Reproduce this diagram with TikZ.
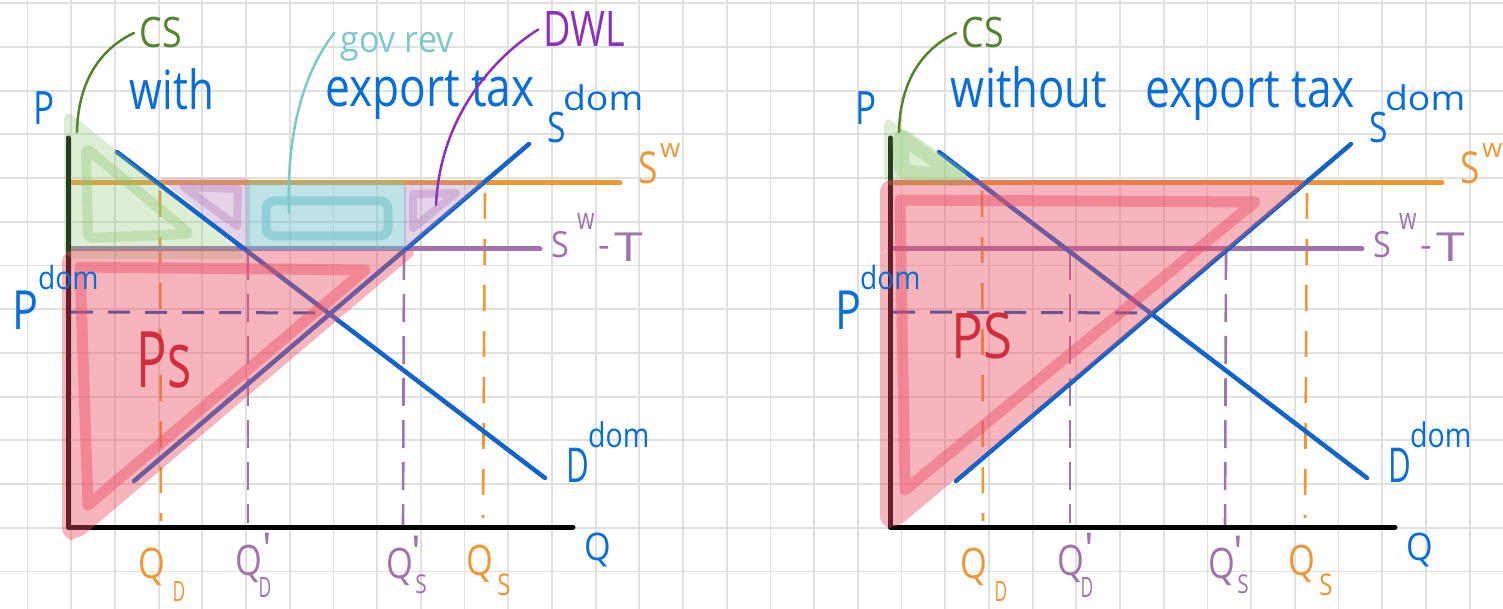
\documentclass[tikz,border=0pt]{standalone}
\usepackage{fontspec}
\setmainfont{Open Sans}
\usepackage{graphicx}
\definecolor{gridc}{RGB}{224,224,224}
\definecolor{lnblue}{RGB}{18,100,200}
\definecolor{dashblue}{RGB}{20,85,175}
\definecolor{txblue}{RGB}{10,110,215}
\definecolor{orng}{RGB}{237,152,55}
\definecolor{purp}{RGB}{160,115,172}
\definecolor{dwlc}{RGB}{140,50,185}
\definecolor{csgreen}{RGB}{85,130,45}
\definecolor{tealt}{RGB}{125,200,200}
\definecolor{psred}{RGB}{210,45,60}
\definecolor{redf}{RGB}{235,80,100}
\definecolor{greenf}{RGB}{140,200,110}
\definecolor{purpf}{RGB}{175,120,185}
\definecolor{tealf}{RGB}{110,195,200}
\newcommand{\fs}[1]{\fontsize{#1}{#1}\selectfont}
\newcommand{\hsc}[2]{\scalebox{#1}[1]{#2}}
\tikzset{
  gridline/.style={draw=gridc, line width=1.8pt},
  axisln/.style={draw=black, line width=5pt, line cap=round, line join=round},
  swline/.style={draw=orng, line width=5pt, line cap=round},
  stline/.style={draw=purp, line width=5pt, line cap=round},
  curveln/.style={draw=lnblue, line width=4.5pt, line cap=round},
  pdash/.style={draw=dashblue, line width=3pt, dash pattern=on 22pt off 15pt},
  odash/.style={draw=orng, line width=2.6pt, dash pattern=on 26pt off 20pt},
  vdash/.style={draw=purp, line width=2.6pt, dash pattern=on 28pt off 14pt},
  lbl/.style={inner sep=0pt, outer sep=0pt, anchor=base},
  bt/.style={lbl, text=txblue},
  ot/.style={lbl, text=orng},
  pt/.style={lbl, text=purp},
  csline/.style={draw=csgreen, line width=2.5pt, line cap=round},
  govline/.style={draw=tealt, line width=2.5pt, line cap=round},
  dwlline/.style={draw=dwlc, line width=2.5pt, line cap=round},
  greenfill/.style={fill=greenf, fill opacity=0.3},
  greenstroke/.style={draw=greenf, draw opacity=0.35, line join=round, line cap=round},
  purplefill/.style={fill=purpf, fill opacity=0.32},
  purplestroke/.style={draw=purpf, draw opacity=0.35, line join=round},
  tealfill/.style={fill=tealf, fill opacity=0.45},
  tealstroke/.style={draw=tealf, draw opacity=0.55, line join=round},
  redfill/.style={fill=redf, fill opacity=0.42},
  redstroke/.style={draw=redf, draw opacity=0.45, line join=round, line cap=round},
}
\newcommand{\panellines}{%
  \coordinate (O) at (68,527);
  \coordinate (Yt) at (68,138);
  \coordinate (Xe) at (573,527);
  \coordinate (sw1) at (68,183);
  \coordinate (sw2) at (620,183);
  \coordinate (st1) at (68,249);
  \coordinate (st2) at (540,249);
  \coordinate (s1) at (134,481);
  \coordinate (s2) at (529,144);
  \coordinate (d1) at (117,152);
  \coordinate (d2) at (545,478);
  \coordinate (eq) at (329,313);
  \coordinate (pd) at (71,312);
  \coordinate (qd1) at (160,191);
  \coordinate (qd2) at (161,521);
  \coordinate (qdp1) at (248,252);
  \coordinate (qdp2) at (248,523);
  \coordinate (qsp1) at (404,252);
  \coordinate (qsp2) at (403,526);
  \coordinate (qs1) at (485,193);
  \coordinate (qs2) at (483,518);
  \draw[odash] (qd1) -- (qd2);
  \draw[vdash] (qdp1) -- (qdp2);
  \draw[vdash] (qsp1) -- (qsp2);
  \draw[odash] (qs1) -- (qs2);
  \draw[swline] (sw1) -- (sw2);
  \draw[stline] (st1) -- (st2);
  \draw[pdash] (pd) -- (eq);
  \draw[curveln] (s1) -- (s2);
  \draw[curveln] (d1) -- (d2);
  \draw[axisln] (Yt) -- (O) -- (Xe);
}
\newcommand{\panellabels}{%
  \node[bt, font=\fs{46}] (P) at (44,125) {\hsc{0.76}{P}};
  \node[bt, font=\fs{54}] (Pd) at (26,329) {\hsc{0.8}{P}};
  \node[bt, font=\fs{32}, anchor=base west] (Pdsup) at (38,290) {\hsc{0.88}{dom}};
  \node[bt, font=\fs{42}] (Sd) at (557,143) {\hsc{0.8}{S}};
  \node[bt, font=\fs{34}, anchor=base west] (Sdsup) at (563,111) {\hsc{1.1}{dom}};
  \node[bt, font=\fs{48}] (Dd) at (578,482) {\hsc{0.65}{D}};
  \node[bt, font=\fs{34}, anchor=base west] (Ddsup) at (588,447) {\hsc{0.84}{dom}};
  \node[ot, font=\fs{44}] (Sw) at (648,184) {\hsc{0.8}{S}};
  \node[ot, font=\fs{26}, anchor=base west] (Swsup) at (660,158) {w};
  \node[pt, font=\fs{36}] (St) at (560,258) {\hsc{0.9}{S}};
  \node[pt, font=\fs{30}, anchor=base west] (Stsup) at (577,230) {\hsc{0.75}{w}};
  \node[pt, font=\fs{36}] (Stm) at (604,258) {-};
  \node[pt, font=\fs{40}] (StT) at (629,262) {\hsc{1.3}{T}};
  \node[bt, font=\fs{38}] (Qax) at (598,560) {\hsc{0.9}{Q}};
  \node[ot, font=\fs{42}] (QD) at (152,578) {\hsc{0.82}{Q}};
  \node[ot, font=\fs{28}] (QDs) at (179,601) {\hsc{0.62}{D}};
  \node[pt, font=\fs{42}] (QDp) at (249,575) {\hsc{0.82}{Q}};
  \node[pt, font=\fs{44}] (QDpp) at (267,564) {\textquotesingle};
  \node[pt, font=\fs{28}] (QDps) at (265,597) {\hsc{0.62}{D}};
  \node[pt, font=\fs{42}] (QSp) at (400,578) {\hsc{0.82}{Q}};
  \node[pt, font=\fs{44}] (QSpp) at (416,567) {\textquotesingle};
  \node[pt, font=\fs{26}] (QSps) at (421,593) {\hsc{0.8}{S}};
  \node[ot, font=\fs{42}] (QS) at (480,575) {\hsc{0.82}{Q}};
  \node[ot, font=\fs{30}] (QSs) at (504,595) {\hsc{0.8}{S}};
  \node[lbl, text=csgreen, font=\fs{42}] (CS) at (161,48) {\hsc{0.85}{CS}};
  \coordinate (csend) at (77,132);
  \draw[csline] ([xshift=-6pt]CS.west) .. controls (98,50) and (78,84) .. (csend);
}
\begin{document}
\begin{tikzpicture}[x=1pt, y=-1pt]
\useasboundingbox (0,0) rectangle (1503,609);
\fill[white] (0,0) rectangle (1503,609);
\foreach \k in {0,...,33} \draw[gridline] ({27.5+43.7*\k},0) -- ({27.5+43.7*\k},609);
\foreach \k in {0,...,13} \draw[gridline] (0,{3.3+43.7*\k}) -- (1503,{3.3+43.7*\k});

\begin{scope}[name prefix=L-]
  \panellines
\end{scope}
\begin{scope}[name prefix=R-, shift={(822,0)}]
  \panellines
\end{scope}

% ---- left panel shading ----
\fill[greenfill, rounded corners=12] (64,108) -- (64,259) -- (250,259) -- cycle;
\draw[greenstroke, line width=10pt, rounded corners=4] (86,148) -- (88,238) -- (190,234) -- cycle;
\fill[purplefill, rounded corners=6] (158,178) -- (250,178) -- (250,251) -- cycle;
\draw[purplestroke, line width=8pt] (184,187) -- (238,189) -- (237,226) -- cycle;
\fill[tealfill, rounded corners=8] (246,181) rectangle (406,251);
\draw[tealstroke, line width=9pt, rounded corners=8] (266,201) rectangle (388,236);
\fill[purplefill, rounded corners=6] (404,181) -- (486,181) -- (404,251) -- cycle;
\draw[purplestroke, line width=8pt] (413,194) -- (456,193) -- (413,228) -- cycle;
\fill[redfill, rounded corners=12] (62,250) -- (420,250) -- (78,540) -- (62,540) -- cycle;
\draw[redstroke, line width=11pt] (80,267) -- (365,270) -- (88,505) -- cycle;

% ---- right panel shading ----
\fill[greenfill, rounded corners=10] (884,115) -- (884,186) -- (978,186) -- cycle;
\draw[greenstroke, line width=16pt, rounded corners=6] (900,135) -- (902,172) -- (962,178) -- cycle;
\fill[redfill, rounded corners=12] (880,180) -- (1310,180) -- (897,528) -- (880,528) -- cycle;
\draw[redstroke, line width=11pt] (900,200) -- (1255,202) -- (905,490) -- cycle;

\begin{scope}[name prefix=L-]
  \panellabels
\end{scope}
\begin{scope}[name prefix=R-, shift={(822,0)}]
  \panellabels
\end{scope}

% ---- left annotations ----
\node[bt, font=\fs{54}] (withL) at (172,110) {\hsc{0.78}{with}};
\node[bt, font=\fs{54}] (exL) at (430,107) {\hsc{0.82}{export tax}};
\node[lbl, text=tealt, font=\fs{37}] (gov) at (397,53) {\hsc{0.92}{gov rev}};
\node[lbl, text=dwlc, font=\fs{49}] (DWL) at (584,47) {\hsc{0.77}{DWL}};
\node[lbl, text=psred, font=\fs{78}] (PSL) at (164,387) {\hsc{0.65}{Ps}};
\coordinate (govend) at (289,213);
\coordinate (dwlend) at (436,205);
\draw[govline] ([xshift=-6pt]gov.north west) .. controls (305,70) and (286,130) .. (govend);
\draw[dwlline] ([xshift=-5pt]DWL.west) .. controls (490,60) and (440,120) .. (dwlend);

% ---- right annotations ----
\node[bt, font=\fs{54}] (withoutR) at (1029,108) {\hsc{0.81}{without}};
\node[bt, font=\fs{54}] (exR) at (1250,108) {\hsc{0.82}{export tax}};
\node[lbl, text=psred, font=\fs{63}] (PSR) at (982,358) {\hsc{0.84}{PS}};
\end{tikzpicture}
\end{document}
